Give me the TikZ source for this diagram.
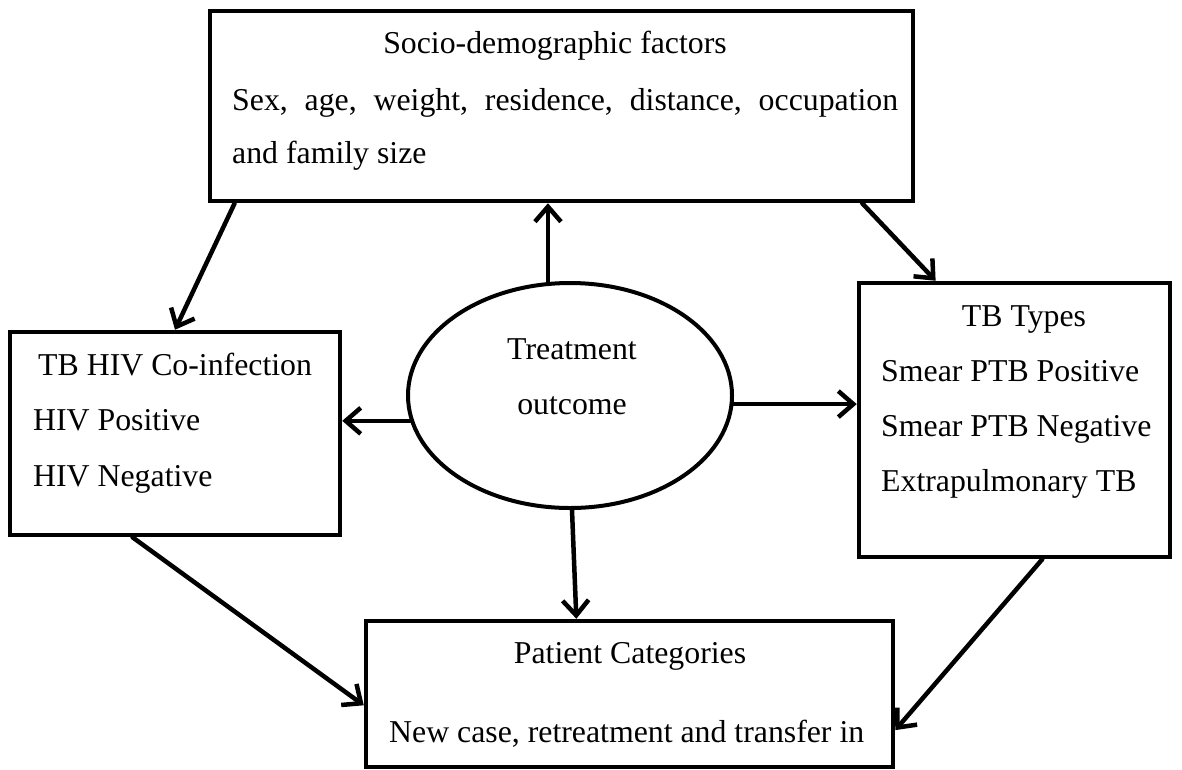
\documentclass[tikz,border=0pt]{standalone}
\usepackage{fontspec}
\setmainfont{Liberation Serif}
\usetikzlibrary{arrows.meta,calc,shapes.geometric}
\begin{document}
\begin{tikzpicture}[x=1pt,y=-1pt,
  box/.style={draw, line width=4.5pt, rectangle, inner sep=0pt, line join=miter},
  oval/.style={draw, line width=4pt, ellipse, inner sep=0pt},
  txt/.style={font=\fontsize{31.8pt}{38pt}\selectfont, inner sep=0pt},
  conn/.style={line width=4.5pt, line cap=round, -{Straight Barb[length=15pt,width=26pt,line width=4.5pt]}}
]
\useasboundingbox (0,0) rectangle (1182,769);
\fill[white] (0,0) rectangle (1182,769);

% boxes
\node[box, minimum width=703pt, minimum height=190pt] (top) at (561.5,106) {};
\node[box, minimum width=330pt, minimum height=203pt] (left) at (175,433.5) {};
\node[box, minimum width=311pt, minimum height=274pt] (right) at (1014.5,420) {};
\node[box, minimum width=527pt, minimum height=146pt] (bottom) at (629.5,694) {};
\node[oval, minimum width=324pt, minimum height=225pt] (ell) at (570,395.5) {};

% texts
\node[txt, anchor=base] (t1) at (555,53) {Socio-demographic factors};
\node[txt, anchor=base west] (t2) at (232,110) {\makebox[666pt][s]{Sex, age, weight, residence, distance, occupation}};
\node[txt, anchor=base west] (t3) at (232,163) {and family size};

\node[txt, anchor=base west] (l1) at (38,375) {TB HIV Co-infection};
\node[txt, anchor=base west] (l2) at (33,430) {HIV Positive};
\node[txt, anchor=base west] (l3) at (33,486) {HIV Negative};

\node[txt, anchor=base] (r1) at (1024,326) {TB Types};
\node[txt, anchor=base west] (r2) at (881,381) {Smear PTB Positive};
\node[txt, anchor=base west] (r3) at (881,436) {Smear PTB Negative};
\node[txt, anchor=base west] (r4) at (881,491) {Extrapulmonary TB};

\node[txt, anchor=base] (b1) at (630,663) {Patient Categories};
\node[txt, anchor=base west] (b2) at (389,742) {New case, retreatment and transfer in};

\node[txt, anchor=base] (e1) at (572,359) {Treatment};
\node[txt, anchor=base] (e2) at (572,414) {outcome};

% connectors
\draw[conn] (ell.101.7) -- (ell.101.7 |- top.south);
\draw[conn] (ell.189) -- (left.east |- ell.189);
\draw[conn] (ell.357) -- (right.west |- ell.357);
\draw[conn] (ell.271) -- ($(bottom.north west)!0.4!(bottom.north east)$);
\draw[conn] ($(top.south west)!0.038!(top.south east)$) -- (left.north);
\draw[conn] ($(top.south west)!0.925!(top.south east)$) -- ($(right.north west)!0.25!(right.north east)$);
\draw[conn] ($(left.south west)!0.373!(left.south east)$) -- ($(bottom.north west)!0.575!(bottom.south west)$);
\draw[conn] ($(right.south west)!0.588!(right.south east)$) -- ($(bottom.north east)!0.74!(bottom.south east)$);
\end{tikzpicture}
\end{document}
